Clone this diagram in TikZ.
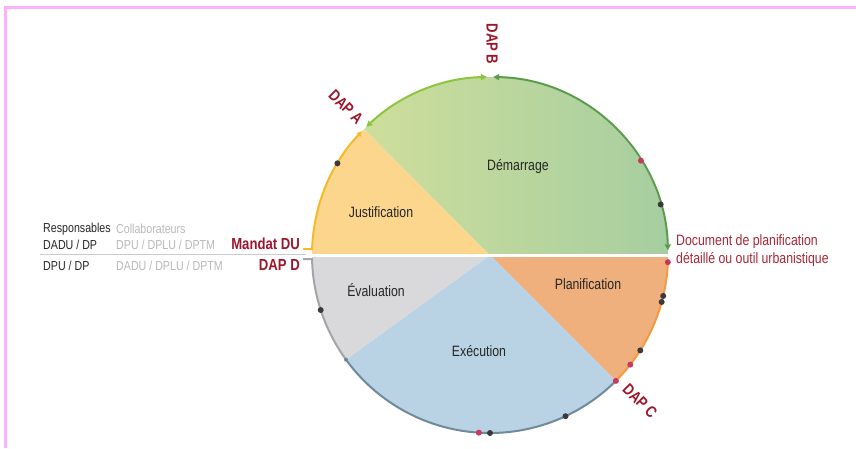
\documentclass[tikz,border=0pt]{standalone}
\usepackage{fontspec}
\setmainfont[FakeStretch=0.82]{Liberation Sans}
\usetikzlibrary{arrows.meta}
\definecolor{dapred}{RGB}{158,22,42}
\definecolor{docred}{RGB}{168,40,55}
\definecolor{fillJ}{RGB}{253,214,142}
\definecolor{greenL}{RGB}{206,222,156}
\definecolor{greenR}{RGB}{166,206,160}
\definecolor{fillP}{RGB}{240,176,125}
\definecolor{fillX}{RGB}{185,211,228}
\definecolor{fillE}{RGB}{217,217,220}
\definecolor{arcJ}{RGB}{247,185,42}
\definecolor{arcG1}{RGB}{140,198,63}
\definecolor{arcG2}{RGB}{90,156,76}
\definecolor{arcP}{RGB}{243,154,62}
\definecolor{arcX}{RGB}{110,138,155}
\definecolor{arcE}{RGB}{165,165,168}
\definecolor{dotdark}{RGB}{58,58,58}
\definecolor{dotpink}{RGB}{201,56,95}
\definecolor{lightgrey}{RGB}{185,185,185}
\definecolor{framepink}{RGB}{255,175,255}
\tikzset{
  lbl/.style={font=\fontsize{15}{15}\selectfont, text=black!85, inner sep=0pt},
  tbl/.style={font=\fontsize{13}{13}\selectfont, anchor=west, inner sep=0pt, text=black!85},
  tblg/.style={tbl, text=lightgrey},
  dap/.style={font=\bfseries\fontsize{16}{16}\selectfont, text=dapred, inner sep=0pt},
  rim/.style={line width=2pt},
  tipboth/.style={{Triangle[length=6pt,width=6pt]}-{Triangle[length=6pt,width=6pt]}},
  dotk/.style={circle, fill=dotdark, inner sep=0pt, minimum size=6pt},
  dotp/.style={circle, fill=dotpink, inner sep=0pt, minimum size=6pt}
}
\begin{document}
\begin{tikzpicture}[x=1pt,y=1pt]
\useasboundingbox (0,0) rectangle (856,-448);
\fill[white] (0,0) rectangle (856,-448);
\draw[framepink, line width=3pt] (5,-448) -- (5,-7) -- (856,-7);

\coordinate (O) at (490,-255);
% sectors
\fill[fillJ] (O) -- ++(135:178) arc[start angle=135,end angle=180,radius=178] -- cycle;
\shade[left color=greenL, right color=greenR] (O) -- ++(0:178) arc[start angle=0,end angle=135,radius=178] -- cycle;
\fill[fillP] (O) -- ++(-45:178) arc[start angle=-45,end angle=0,radius=178] -- cycle;
\fill[fillX] (O) -- ++(216:178) arc[start angle=216,end angle=315,radius=178] -- cycle;
\fill[fillE] (O) -- ++(180:178) arc[start angle=180,end angle=216,radius=178] -- cycle;
\draw[white, line width=3pt] (312,-255) -- (668,-255);
\draw[gray!40, line width=1pt] (40,-254) -- (306,-254);

% hooks
\coordinate (hookA) at (303,-249);
\coordinate (hookD) at (303,-259);

% rim arcs
\draw[rim, arcJ, -{Triangle[length=5pt,width=5pt]}] (hookA) -- ([shift={(178.1:178)}]O) arc[start angle=178.1,end angle=136,radius=178];
\draw[rim, arcG1, tipboth] ([shift={(134:178)}]O) arc[start angle=134,end angle=91,radius=178];
\draw[rim, arcG2, tipboth] ([shift={(89:178)}]O) arc[start angle=89,end angle=1.5,radius=178];
\draw[rim, arcP] ([shift={(-1.5:178)}]O) arc[start angle=-1.5,end angle=-45,radius=178];
\draw[rim, arcX] ([shift={(-45:178)}]O) arc[start angle=-45,end angle=-144,radius=178];
\draw[rim, arcE] ([shift={(216:178)}]O) arc[start angle=216,end angle=181.3,radius=178] -- (hookD);

% dots
\node[dotk] (d1) at ([shift={(149:178)}]O) {};
\node[dotp] (d2) at ([shift={(32:178)}]O) {};
\node[dotk] (d3) at ([shift={(16.5:178)}]O) {};
\node[dotp] (d4) at ([shift={(-2.3:178)}]O) {};
\node[dotk] (d5) at ([shift={(-13.3:178)}]O) {};
\node[dotk] (d6) at ([shift={(-15.3:178)}]O) {};
\node[dotk] (d7) at ([shift={(-32.4:178)}]O) {};
\node[dotp] (d8) at ([shift={(-38:178)}]O) {};
\node[dotp] (d9) at ([shift={(-45:178)}]O) {};
\node[dotk] (d10) at ([shift={(-64.9:178)}]O) {};
\node[dotp] (d11) at ([shift={(266.4:178)}]O) {};
\node[dotk] (d12) at ([shift={(270:178)}]O) {};
\node[dotk] (d13) at ([shift={(198:178)}]O) {};
\node[circle, fill=arcX, inner sep=0pt, minimum size=4pt] (d14) at ([shift={(216:178)}]O) {};

% sector labels
\node[lbl] (dem) at (518,-167) {Démarrage};
\node[lbl] (jus) at (381,-212) {Justification};
\node[lbl] (eva) at (376,-290) {Évaluation};
\node[lbl] (pla) at (588,-284) {Planification};
\node[lbl] (exe) at (479,-351) {Exécution};

% DAP labels
\node[dap, rotate=-90] (dapb) at (492,-44) {DAP B};
\node[dap, rotate=-45] (dapa) at (346,-107) {DAP A};
\node[dap, rotate=-45] (dapc) at (640,-401) {DAP C};
\node[dap, anchor=east] (mdu) at (300,-244) {Mandat DU};
\node[dap, anchor=east] (dapd) at (300,-265) {DAP D};

% left table
\node[tbl] (resp) at (43,-229) {Responsables};
\node[tblg] (coll) at (116,-229) {Collaborateurs};
\node[tbl] (r1a) at (43,-245) {DADU / DP};
\node[tblg] (r1b) at (116,-245) {DPU / DPLU / DPTM};
\node[tbl] (r2a) at (43,-266) {DPU / DP};
\node[tblg] (r2b) at (116,-266) {DADU / DPLU / DPTM};

% right label
\node[anchor=west, align=left, inner sep=0pt, text=docred, font=\fontsize{15}{18}\selectfont] (doc) at (676,-251) {Document de planification\\détaillé ou outil urbanistique};
\end{tikzpicture}
\end{document}
